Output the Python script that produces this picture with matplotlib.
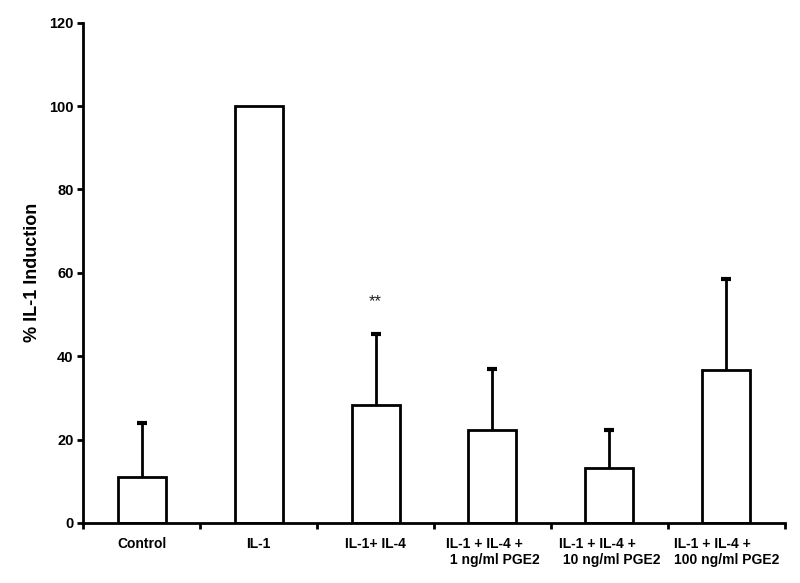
import matplotlib
matplotlib.use('Agg')
from matplotlib import pyplot as plt
import numpy as np

plt.rcParams['font.family'] = ['Liberation Sans', 'DejaVu Sans']

categories = ['Control', 'IL-1', 'IL-1+ IL-4', 'IL-1 + IL-4 +\n 1 ng/ml PGE2',
              'IL-1 + IL-4 +\n 10 ng/ml PGE2', 'IL-1 + IL-4 +\n100 ng/ml PGE2']
values = [11.0, 100.0, 28.2, 22.3, 13.3, 36.8]
errors = [13.0, 0.0, 17.2, 14.7, 9.0, 21.8]
yticks = [0, 20, 40, 60, 80, 100, 120]

fig = plt.figure(figsize=(8, 5.83), dpi=100)
ax = fig.add_axes([0.104, 0.103, 0.877, 0.858])

x = np.arange(len(categories))
lw = 2.0
ax.bar(x, values, width=0.41, color='white', edgecolor='black', linewidth=lw, zorder=2)

# upper error only, IL-1 has none
ex = np.array([xi for xi, e in zip(x, errors) if e > 0])
ev = np.array([v for v, e in zip(values, errors) if e > 0])
ee = np.array([e for e in errors if e > 0])
ax.vlines(ex, ev, ev + ee, color='black', linewidth=lw, zorder=1)
ax.plot(ex, ev + ee, linestyle='none', marker='_', markersize=7,
        markeredgewidth=3, color='black', zorder=1)

ax.text(2, 53, '**', ha='center', va='center', fontsize=12, color='#222222')

ax.set_xlim(-0.5, len(categories) - 0.5)
ax.set_ylim(0, 120)
ax.set_yticks(yticks)
ax.set_yticklabels([str(t) for t in yticks], fontsize=10.5, fontweight='bold')
ax.set_xticks(np.arange(len(categories) + 1) - 0.5)
ax.set_xticklabels([])
ax.set_xticks(x, minor=True)
ax.set_xticklabels(categories, minor=True, fontsize=10, fontweight='bold',
                   multialignment='left')
ax.tick_params(axis='x', which='minor', length=0, pad=10)
ax.tick_params(axis='x', which='major', direction='out', length=4, width=lw)
ax.tick_params(axis='y', direction='out', length=4, width=lw, pad=3)

for s in ['top', 'right']:
    ax.spines[s].set_visible(False)
for s in ['left', 'bottom']:
    ax.spines[s].set_linewidth(lw)

ax.set_ylabel('% IL-1 Induction', fontsize=13, fontweight='bold', labelpad=6)

fig.savefig('out.png', dpi=100)
